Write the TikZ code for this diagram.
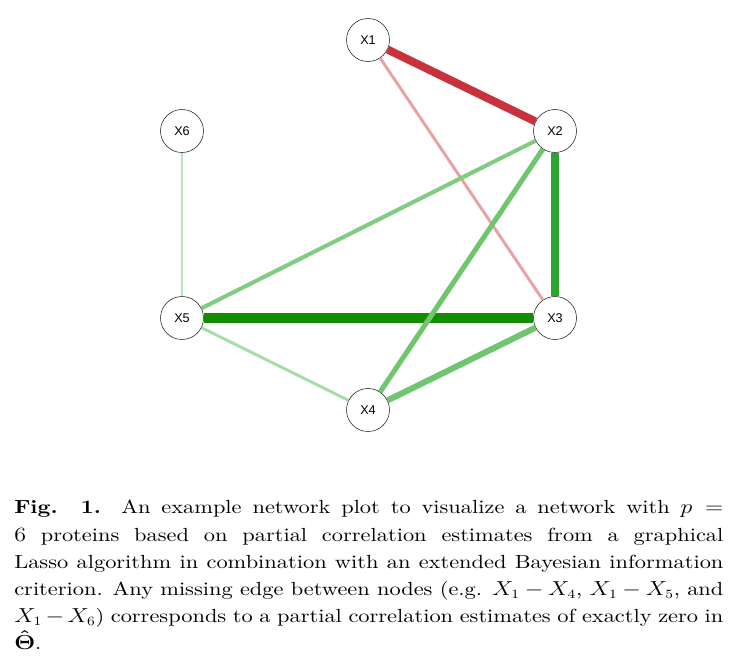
\documentclass[tikz,border=0pt]{standalone}
\usepackage{amsmath}
\usepackage{amssymb}
\usepackage{graphicx}
\usepackage{fontspec}
\setmainfont{lmroman10-regular.otf}[BoldFont=lmroman10-bold.otf,
    ItalicFont=lmroman10-italic.otf, BoldItalicFont=lmroman10-bolditalic.otf]
\newfontfamily\nodefont{Liberation Sans}
\definecolor{negstrong}{RGB}{200,50,60}
\definecolor{negweak}{RGB}{232,162,166}
\definecolor{posdark}{RGB}{20,140,0}
\definecolor{posmid}{RGB}{46,165,46}
\definecolor{poslight}{RGB}{112,198,112}
\definecolor{posfaint}{RGB}{128,204,128}
\definecolor{posfainter}{RGB}{168,220,168}
\definecolor{posfaintest}{RGB}{185,230,185}

\begin{document}
\begin{tikzpicture}[x=0.025cm, y=-0.025cm,
    protein/.style={circle, draw=black!85, line width=0.4pt, fill=white,
        minimum size=1.075cm, inner sep=0pt, font=\nodefont\fontsize{9}{10}\selectfont}]
    \useasboundingbox (0,0) rectangle (740,665);

    % Proteins
    \node[protein] (X1) at (368, 40) {X1};
    \node[protein] (X2) at (555, 131) {X2};
    \node[protein] (X6) at (182, 131) {X6};
    \node[protein] (X5) at (182, 318) {X5};
    \node[protein] (X3) at (555, 318) {X3};
    \node[protein] (X4) at (368, 410) {X4};

    % Negative partial correlations
    \draw[negstrong, line width=5.7pt] (X1) -- (X2);
    \draw[negweak, line width=2.1pt] (X1) -- (X3);

    % Positive partial correlations
    \draw[posdark, line width=7.1pt] (X5) -- (X3);
    \draw[posmid, line width=5.7pt] (X2) -- (X3);
    \draw[poslight, line width=3.6pt] (X2) -- (X4);
    \draw[poslight, line width=4.3pt] (X3) -- (X4);
    \draw[posfaint, line width=2.9pt] (X2) -- (X5);
    \draw[posfainter, line width=2.1pt] (X5) -- (X4);
    \draw[posfaintest, line width=2.1pt] (X6) -- (X5);

    % Caption (stretched sideways like the scanned figure)
    \node[anchor=north west, inner sep=0pt] (caption) at (14, 500)
        {\scalebox{1.18}[1]{\parbox[t]{15.02cm}{\fontsize{13.5}{19.3}\selectfont
        \textbf{Fig. 1.} An example network plot to visualize a network with $p=$\linebreak
        $6$ proteins based on partial correlation estimates from a graphical\linebreak
        Lasso algorithm in combination with an extended Bayesian information\linebreak
        criterion. Any missing edge between nodes (e.g. $X_1-X_4$, $X_1-X_5$, and\linebreak
        $X_1-X_6$) corresponds to a partial correlation estimates of exactly zero in\linebreak
        $\boldsymbol{\hat{\Theta}}$.}}};
\end{tikzpicture}
\end{document}
